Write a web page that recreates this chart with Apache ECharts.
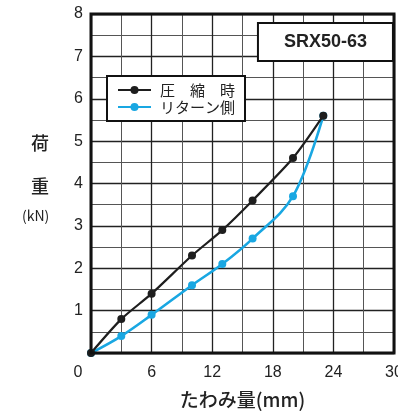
<!DOCTYPE html>
<html><head><meta charset="utf-8">
<script src="https://cdn.jsdelivr.net/npm/echarts@6/dist/echarts.min.js"></script>
<style>html,body{margin:0;padding:0;background:#fff}#c{width:398px;height:414px}</style>
</head><body><div id="c"></div>
<script>
const seriesNames = ['圧　縮　時', 'リターン側'];
const compressX = [0, 3, 6, 10, 13, 16, 20, 23];
const compressY = [0, 0.8, 1.4, 2.3, 2.9, 3.6, 4.6, 5.6];
const returnX = [0, 3, 6, 10, 13, 16, 20, 23];
const returnY = [0, 0.4, 0.9, 1.6, 2.1, 2.7, 3.7, 5.6];
const xTicks = [0, 6, 12, 18, 24, 30];
const yTicks = [0, 1, 2, 3, 4, 5, 6, 7, 8];
const titleText = 'SRX50-63';
const xName = 'たわみ量(mm)';
const yNameParts = ['荷', '重', '(kN)'];

const BLACK = '#1e1e1e', BLUE = '#19a7e2';
const numFont = '"Liberation Sans", Arial, sans-serif';
const jpFont = '"Noto Sans CJK JP", sans-serif';

const chart = echarts.init(document.getElementById('c'), null, {renderer: 'canvas'});
chart.setOption({
  animation: false,
  backgroundColor: '#fff',
  grid: {left: 91, top: 14, right: 4, bottom: 61, containLabel: false, outerBoundsMode: 'none',
    show: true, borderColor: '#111', borderWidth: 3, backgroundColor: 'transparent', z: 10},
  title: {
    text: titleText, right: 5, top: 23, padding: [10, 26],
    borderWidth: 2, borderColor: '#111', backgroundColor: '#fff',
    textStyle: {fontSize: 18, fontWeight: 'bold', color: '#222', fontFamily: numFont}
  },
  legend: {
    data: seriesNames, orient: 'vertical', left: 107, top: 76,
    padding: [6, 10, 6, 10], itemGap: 1, itemWidth: 33, itemHeight: 10,
    borderWidth: 2, borderColor: '#111', backgroundColor: '#fff',
    textStyle: {fontSize: 15, color: '#222', fontFamily: jpFont, padding: [0, 0, 0, 4], lineHeight: 16}
  },
  xAxis: {
    type: 'value', min: xTicks[0], max: xTicks[xTicks.length - 1], interval: 6,
    axisLine: {show: false}, axisTick: {show: false},
    splitLine: {show: true, lineStyle: {color: '#222', width: 1.3}},
    minorTick: {show: false, splitNumber: 2},
    minorSplitLine: {show: true, lineStyle: {color: '#555', width: 1}},
    axisLabel: {
      margin: 12, fontSize: 16, color: '#222', fontFamily: numFont, showMaxLabel: true, hideOverlap: false,
      formatter: v => v === 0 ? '{z|0}' : String(v),
      rich: {z: {fontSize: 16, color: '#222', fontFamily: numFont, padding: [0, 26, 0, 0]}}
    },
    name: xName, nameLocation: 'middle', nameGap: 37,
    nameTextStyle: {fontSize: 19, fontWeight: 500, color: '#222', fontFamily: jpFont}
  },
  yAxis: {
    type: 'value', min: yTicks[0], max: yTicks[yTicks.length - 1], interval: 1,
    axisLine: {show: false}, axisTick: {show: false},
    splitLine: {show: true, lineStyle: {color: '#222', width: 1.3}},
    minorTick: {show: false, splitNumber: 2},
    minorSplitLine: {show: true, lineStyle: {color: '#555', width: 1}},
    axisLabel: {margin: 8, fontSize: 16, color: '#222', fontFamily: numFont, formatter: v => v === 0 ? '' : String(v)}
  },
  graphic: [
    {type: 'text', left: 31, top: 134, style: {text: yNameParts[0], fill: '#222', font: '500 18px ' + jpFont}},
    {type: 'text', left: 31, top: 177, style: {text: yNameParts[1], fill: '#222', font: '500 18px ' + jpFont}},
    {type: 'text', left: 22, top: 209, style: {text: yNameParts[2], fill: '#222', font: '14px ' + jpFont}}
  ],
  series: [
    {
      name: seriesNames[0], type: 'line', smooth: 0.25, z: 4,
      data: compressX.map((x, i) => [x, compressY[i]]),
      symbol: 'circle', symbolSize: 8,
      lineStyle: {color: BLACK, width: 2.2}, itemStyle: {color: BLACK}
    },
    {
      name: seriesNames[1], type: 'line', smooth: 0.35, z: 3,
      data: returnX.map((x, i) => [x, returnY[i]]),
      symbol: 'circle', symbolSize: 8,
      lineStyle: {color: BLUE, width: 2.6}, itemStyle: {color: BLUE}
    }
  ]
});
</script></body></html>
